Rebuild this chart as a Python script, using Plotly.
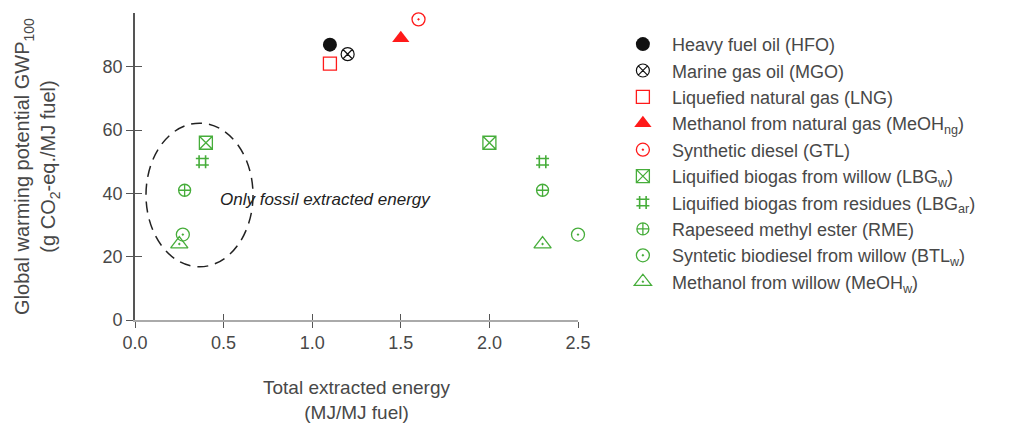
import plotly.graph_objects as go

# ---- data ----
names = [
    "Heavy fuel oil (HFO)",
    "Marine gas oil (MGO)",
    "Liquefied natural gas (LNG)",
    "Methanol from natural gas (MeOH<sub>ng</sub>)",
    "Synthetic diesel (GTL)",
    "Liquified biogas from willow (LBG<sub>w</sub>)",
    "Liquified biogas from residues (LBG<sub>ar</sub>)",
    "Rapeseed methyl ester (RME)",
    "Syntetic biodiesel from willow (BTL<sub>w</sub>)",
    "Methanol from willow (MeOH<sub>w</sub>)",
]
energy_hfo = [1.1];        gwp_hfo = [87]
energy_mgo = [1.2];        gwp_mgo = [84]
energy_lng = [1.1];        gwp_lng = [81]
energy_meoh_ng = [1.5];    gwp_meoh_ng = [89]
energy_gtl = [1.6];        gwp_gtl = [95]
energy_lbg_w = [0.4, 2.0]; gwp_lbg_w = [56, 56]
energy_lbg_ar = [0.38, 2.3]; gwp_lbg_ar = [50, 50]
energy_rme = [0.28, 2.3];  gwp_rme = [41, 41]
energy_btl_w = [0.27, 2.5]; gwp_btl_w = [27, 27]
energy_meoh_w = [0.25, 2.3]; gwp_meoh_w = [24, 24]

x_ticks = [0.0, 0.5, 1.0, 1.5, 2.0, 2.5]
x_ticktext = ["0.0", "0.5", "1.0", "1.5", "2.0", "2.5"]
y_ticks = [0, 20, 40, 60, 80]

ellipse_x = [0.062, 0.666]
ellipse_y = [16.8, 62.2]
note_text = "Only fossil extracted energy"
note_pos = (0.47, 38.2)

# ---- styles ----
RED = "#ff1a1a"
GREEN = "#46ad3a"
BLACK = "#111111"
TXT = "#484848"
FONT = "Arial, Liberation Sans, sans-serif"

series = [
    (names[0], energy_hfo, gwp_hfo, "circle", 14, BLACK, BLACK, 0),
    (names[1], energy_mgo, gwp_mgo, "circle-x-open", 13, BLACK, "#333333", 1.2),
    (names[2], energy_lng, gwp_lng, "square-open", 13, RED, RED, 1.3),
    (names[3], energy_meoh_ng, gwp_meoh_ng, "triangle-up", 15, RED, RED, 0),
    (names[4], energy_gtl, gwp_gtl, "circle-open-dot", 13, RED, RED, 1.3),
    (names[5], energy_lbg_w, gwp_lbg_w, "square-x-open", 13, GREEN, GREEN, 1.3),
    (names[6], energy_lbg_ar, gwp_lbg_ar, "hash-open", 13, GREEN, GREEN, 1.6),
    (names[7], energy_rme, gwp_rme, "circle-cross-open", 12, GREEN, GREEN, 1.3),
    (names[8], energy_btl_w, gwp_btl_w, "circle-open-dot", 13, GREEN, GREEN, 1.3),
    (names[9], energy_meoh_w, gwp_meoh_w, "triangle-up-open-dot", 15, GREEN, GREEN, 1.3),
]

fig = go.Figure()
for name, xs, ys, sym, size, col, lcol, lw in series:
    fig.add_trace(go.Scatter(
        x=xs, y=ys, mode="markers", name=name, cliponaxis=False,
        marker=dict(symbol=sym, size=size, color=col,
                    line=dict(color=lcol, width=lw)),
    ))

# invisible trace on overlay axes (for crossing ticks)
fig.add_trace(go.Scatter(x=[None], y=[None], xaxis="x2", yaxis="y2",
                         showlegend=False, hoverinfo="skip"))

fig.add_shape(type="circle", xref="x", yref="y",
              x0=ellipse_x[0], x1=ellipse_x[1], y0=ellipse_y[0], y1=ellipse_y[1],
              line=dict(color="#222222", width=1.5, dash="11px,7px"))

fig.add_annotation(x=note_pos[0], y=note_pos[1], xref="x", yref="y",
                   text=note_text, showarrow=False, xanchor="left",
                   font=dict(family=FONT, size=17, color="#222222", style="italic"))

axis_common = dict(showgrid=False, zeroline=False)
fig.update_layout(
    width=1018, height=423,
    margin=dict(l=135, r=440, t=13, b=103, autoexpand=False),
    paper_bgcolor="white", plot_bgcolor="white",
    font=dict(family=FONT, color=TXT),
    xaxis=dict(range=[0, 2.5], tickvals=x_ticks, ticktext=x_ticktext,
               ticks="outside", ticklen=6, tickwidth=1.3, tickcolor="#555555",
               showline=True, linecolor="#aaaaaa", linewidth=1.5,
               tickfont=dict(size=18, color=TXT),
               title=dict(text="Total extracted energy<br>(MJ/MJ fuel)",
                          font=dict(size=19, color=TXT), standoff=29),
               **axis_common),
    yaxis=dict(range=[0, 97], tickvals=y_ticks,
               ticks="outside", ticklen=7, tickwidth=1.3, tickcolor="#555555",
               showline=True, linecolor="#555555", linewidth=1.8,
               tickfont=dict(size=18, color=TXT),
               title=dict(text="Global warming potential GWP<sub>100</sub><br>(g CO<sub>2</sub>-eq./MJ fuel)",
                          font=dict(size=20, color=TXT), standoff=41),
               **axis_common),
    xaxis2=dict(range=[0, 2.5], overlaying="x", anchor="y2", side="bottom",
                tickvals=x_ticks, ticks="inside", ticklen=6, tickwidth=1.3,
                tickcolor="#555555", showticklabels=False, showline=False,
                **axis_common),
    yaxis2=dict(range=[0, 97], overlaying="y", anchor="x2", side="left",
                tickvals=y_ticks, ticks="inside", ticklen=7, tickwidth=1.3,
                tickcolor="#555555", showticklabels=False, showline=False,
                **axis_common),
    legend=dict(x=1.081, xanchor="left", y=0.958, yanchor="top",
                itemwidth=48, font=dict(size=18, color=TXT),
                bgcolor="rgba(0,0,0,0)", tracegroupgap=0),
    showlegend=True,
)

fig.write_html("out.html", config={"displayModeBar": False},
               post_script="document.body.style.margin='0';document.body.style.overflow='hidden';")
